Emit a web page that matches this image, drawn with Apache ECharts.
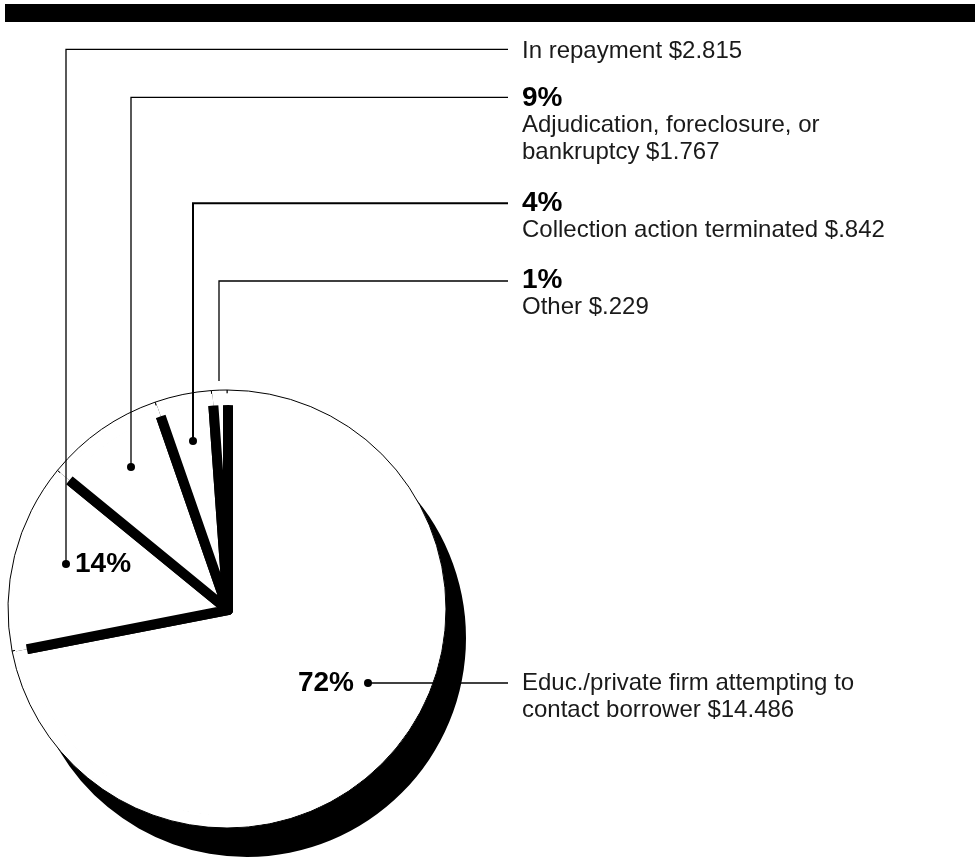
<!DOCTYPE html>
<html>
<head>
<meta charset="utf-8">
<script src="https://cdn.jsdelivr.net/npm/echarts@6/dist/echarts.min.js"></script>
<style>
html,body{margin:0;padding:0;background:#fff;}
#chart{width:975px;height:858px;}
</style>
</head>
<body>
<div id="chart"></div>
<script>
// ---- data ----
const categories = [
  'Educ./private firm attempting to\ncontact borrower',
  'In repayment',
  'Adjudication, foreclosure, or\nbankruptcy',
  'Collection action terminated',
  'Other'
];
const amounts = [14.486, 2.815, 1.767, 0.842, 0.229];

// ---- annotation layout (not data) ----
const anchorPts = [[368, 683], [66, 564], [131, 467], [193, 441], [219, 381]];
const rowY = [683, 49.3, 97.3, 203.3, 281];
const labelTop = [670, 38.2, 84.8, 189.8, 266.8];
const pctInside = ['left', 'right', null, null, null]; // where the bold % sits next to the dot
const leaderWidth = [1.3, 1.3, 1.3, 2, 1.3];

const FONT = '"Liberation Sans", Arial, Helvetica, sans-serif';
const total = amounts.reduce((a, b) => a + b, 0);
const pct = amounts.map(v => Math.round(v / total * 100));
const fmtAmt = v => '$' + v.toFixed(3).replace(/^0/, '');

const data = categories.map((n, i) => ({
  name: n, value: amounts[i],
  labelLine: { lineStyle: { width: leaderWidth[i], color: '#000' } }
}));

const rich = {
  t: { fontFamily: FONT, fontSize: 24, lineHeight: 27, color: '#1a1a1a' },
  p: { fontFamily: FONT, fontSize: 28, fontWeight: 'bold', lineHeight: 27, color: '#000' },
  pl: { fontFamily: FONT, fontSize: 28, fontWeight: 'bold', lineHeight: 28, color: '#000', padding: [0, 10, 0, 0] },
  pr: { fontFamily: FONT, fontSize: 28, fontWeight: 'bold', lineHeight: 28, color: '#000', padding: [0, 0, 0, 5] },
  dot: { width: 8, height: 8, borderRadius: 4, backgroundColor: '#000' }
};

const base = {
  type: 'pie', startAngle: 90, clockwise: true, silent: true,
  animation: false, avoidLabelOverlap: false, emphasis: { disabled: true },
  data: data
};

const chart = echarts.init(document.getElementById('chart'), null, { renderer: 'canvas' });
chart.setOption({
  backgroundColor: '#fff',
  animation: false,
  graphic: [{ type: 'rect', shape: { x: 5, y: 4, width: 970, height: 18 }, style: { fill: '#000' }, silent: true }],
  series: [
    Object.assign({}, base, {
      z: 1, center: [247, 638], radius: 219,
      itemStyle: { color: '#000', borderWidth: 0 },
      label: { show: false }, labelLine: { show: false }
    }),
    Object.assign({}, base, {
      z: 2, center: [227, 609], radius: 219,
      itemStyle: { color: '#fff', borderColor: '#000', borderWidth: 1 },
      label: { show: false }, labelLine: { show: false }
    }),
    Object.assign({}, base, {
      z: 3, center: [228, 610], radius: 211,
      itemStyle: { color: '#fff', borderColor: '#000', borderWidth: 10 },
      label: { show: false }, labelLine: { show: false }
    }),
    Object.assign({}, base, {
      z: 4, center: [228, 610], radius: [205, 216.8],
      itemStyle: { color: '#fff', borderWidth: 0 },
      label: { show: false }, labelLine: { show: false }
    }),
    Object.assign({}, base, {
      z: 10, center: [227, 609], radius: 219,
      itemStyle: { color: 'rgba(0,0,0,0)', borderWidth: 0 },
      label: {
        show: true, position: 'outside', alignTo: 'none', rich: rich,
        formatter: function (p) {
          const i = p.dataIndex;
          const lines = categories[i].split('\n');
          lines[lines.length - 1] += ' ' + fmtAmt(amounts[i]);
          let s = lines.map(l => '{t|' + l + '}').join('\n');
          if (!pctInside[i]) s = '{p|' + pct[i] + '%}\n' + s;
          return s;
        }
      },
      labelLine: { show: true, smooth: false, lineStyle: { color: '#000', width: 1.3 } },
      labelLayout: function (params) {
        const i = params.dataIndex;
        const a = anchorPts[i];
        const ry = rowY[i];
        return {
          x: 522, y: labelTop[i], align: 'left', verticalAlign: 'top', hideOverlap: false,
          labelLinePoints: [[a[0], a[1]], [a[0], ry], [508, ry]]
        };
      }
    }),
    Object.assign({}, base, {
      z: 11, center: [227, 609], radius: 219,
      itemStyle: { color: 'rgba(0,0,0,0)', borderWidth: 0 },
      label: {
        show: true, position: 'inside', rich: rich,
        formatter: function (p) {
          const i = p.dataIndex;
          if (pctInside[i] === 'left') return '{pl|' + pct[i] + '%}{dot|}';
          if (pctInside[i] === 'right') return '{dot|}{pr|' + pct[i] + '%}';
          if (i === amounts.length - 1) return '';
          return '{dot|}';
        }
      },
      labelLine: { show: false },
      labelLayout: function (params) {
        const i = params.dataIndex;
        const a = anchorPts[i];
        if (pctInside[i] === 'left') return { x: a[0] + 4, y: a[1], align: 'right', verticalAlign: 'middle' };
        if (pctInside[i] === 'right') return { x: a[0] - 4, y: a[1], align: 'left', verticalAlign: 'middle' };
        return { x: a[0], y: a[1], align: 'center', verticalAlign: 'middle' };
      }
    })
  ]
});
</script>
</body>
</html>
